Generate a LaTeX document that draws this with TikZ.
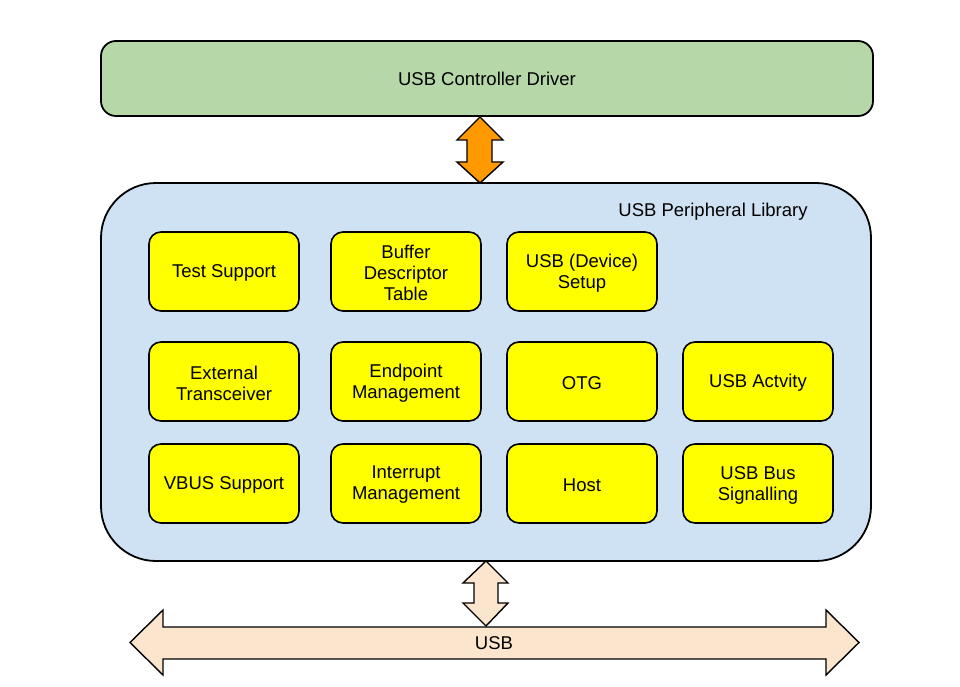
\documentclass[tikz,border=0pt]{standalone}
\usepackage{fontspec}
\setmainfont{Liberation Sans}
\usetikzlibrary{positioning}
\definecolor{drivergreen}{HTML}{B6D7A8}
\definecolor{libblue}{HTML}{CFE2F3}
\definecolor{modyellow}{HTML}{FFFF00}
\definecolor{arroworange}{HTML}{FF9900}
\definecolor{usbpeach}{HTML}{FCE5CD}

\begin{document}
\begin{tikzpicture}[x=1pt,y=-1pt,
		txt/.style={font=\fontsize{18.5}{21}\selectfont, align=center, inner sep=0pt},
		module/.style={draw=black, line width=1.6pt, fill=modyellow, rounded corners=12pt, minimum width=150pt, minimum height=79pt, inner sep=0pt},
		blockarrow/.style={draw=black, line width=1.4pt, line join=miter}]
		
		\useasboundingbox (0,0) rectangle (960,687);
		
		% driver on top
		\node[txt, draw=black, line width=1.8pt, fill=drivergreen, rounded corners=15pt, minimum width=772pt, minimum height=75pt] (driver) at (487,78.5) {USB Controller Driver};
		
		% library
		\node[draw=black, line width=1.8pt, fill=libblue, rounded corners=55pt, minimum width=770pt, minimum height=378pt, inner sep=0pt] (lib) at (486,372) {};
		\node[txt] (libname) at (713,212) {USB Peripheral Library};
		
		% modules, text nudged down a little
		\foreach \name/\x/\y/\label in {test/224/271.5/Test Support, bdt/406/271.5/Buffer\\Descriptor\\Table, setup/582/271.5/USB (Device)\\Setup,
			xcvr/224/381.5/External\\Transceiver, endpt/406/381.5/Endpoint\\Management, otg/582/381.5/OTG, activity/758/381.5/USB Actvity,
			vbus/224/483.5/VBUS Support, intr/406/483.5/Interrupt\\Management, host/582/483.5/Host, signal/758/483.5/USB Bus\\Signalling}{
			\node[module] (\name) at (\x,\y) {};
			\node[txt] (\name-text) at ([yshift=-1.5pt]\name.center) {\label};
		}
		
		% driver <-> library
		\draw[blockarrow, fill=arroworange] (480,117) -- (503,140) -- (492,140) -- (492,162) -- (503,162) -- (480,183)
		-- (457,162) -- (467,162) -- (467,140) -- (457,140) -- cycle;
		
		% USB bus
		\draw[blockarrow, fill=usbpeach] (130,642.5) -- (163,610) -- (163,627) -- (826,627) -- (826,610) -- (859,642.5)
		-- (826,675) -- (826,659) -- (163,659) -- (163,675) -- cycle;
		\node[txt] (usb) at (494,643) {USB};
		
		% library <-> USB
		\draw[blockarrow, fill=usbpeach] (486,561) -- (508,583) -- (498,583) -- (498,603) -- (508,603) -- (486,626)
		-- (463,603) -- (474,603) -- (474,583) -- (463,583) -- cycle;
		
	\end{tikzpicture}
\end{document}
